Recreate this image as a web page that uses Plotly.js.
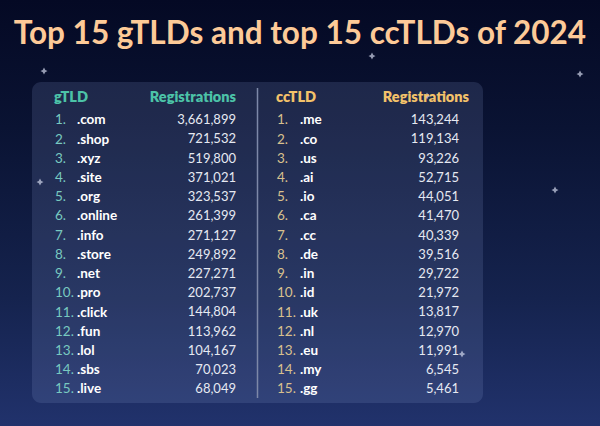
<!DOCTYPE html>
<html>
<head>
<meta charset="utf-8">
<script src="https://cdn.plot.ly/plotly-3.0.1.min.js"></script>
<style>
  html, body { margin: 0; padding: 0; }
  body {
    width: 600px; height: 426px; overflow: hidden;
    background: linear-gradient(180deg, #040924 0%, #0a1333 30%, #15234e 70%, #21326c 100%);
  }
  #chart { width: 600px; height: 426px; }
</style>
</head>
<body>
<div id="chart"></div>
<script>
// ---- data ----
const gRanks = ["1.","2.","3.","4.","5.","6.","7.","8.","9.","10.","11.","12.","13.","14.","15."];
const gTLDs = [".com",".shop",".xyz",".site",".org",".online",".info",".store",".net",".pro",".click",".fun",".lol",".sbs",".live"];
const gRegs = [3661899,721532,519800,371021,323537,261399,271127,249892,227271,202737,144804,113962,104167,70023,68049];
const ccRanks = ["1.","2.","3.","4.","5.","6.","7.","8.","9.","10.","11.","12.","13.","14.","15."];
const ccTLDs = [".me",".co",".us",".ai",".io",".ca",".cc",".de",".in",".id",".uk",".nl",".eu",".my",".gg"];
const ccRegs = [143244,119134,93226,52715,44051,41470,40339,39516,29722,21972,13817,12970,11991,6545,5461];
const headers = {g: ["gTLD", "Registrations"], cc: ["ccTLD", "Registrations"]};
const titleText = "Top 15 gTLDs and top 15 ccTLDs of 2024";
// decorative sparkles (pixel positions)
const starX = [44, 580, 372, 427, 462, 40, 555];
const starY = [71, 74, 56, 96, 354, 182, 190];

// ---- layout helpers ----
const W = 600, H = 426;
const row1 = 121, rowStep = 19.22;   // pixel y of rank 1 and row spacing
const yTop = 1 - row1 / rowStep;      // rank at pixel 0
const yBot = 1 + (H - row1) / rowStep;
const rowsY = gTLDs.map((_, i) => i + 1);
const headerY = 1 - (row1 - 98) / rowStep;
const fmt = v => v.toLocaleString("en-US");
const FONT = "Lato, 'Open Sans', sans-serif";

function col(xpos, texts, ys, pos, color, size, weight) {
  return {
    type: "scatter", mode: "text",
    x: ys.map(() => xpos), y: ys, text: texts,
    textposition: pos, hoverinfo: "skip", showlegend: false,
    textfont: {family: FONT, size: size, color: color, weight: weight}
  };
}

const traces = [
  {type: "scatter", mode: "markers", x: starX, y: starY.map(p => 1 + (p - row1) / rowStep),
   marker: {symbol: "star-diamond", size: 5, color: "rgba(210,215,235,0.7)"},
   hoverinfo: "skip", showlegend: false},
  col(55, gRanks, rowsY, "middle right", "#78c9c0", 13.5, 400),
  col(77, gTLDs, rowsY, "middle right", "#ffffff", 13.5, 700),
  col(236, gRegs.map(fmt), rowsY, "middle left", "#e6e9f2", 13, 400),
  col(277, ccRanks, rowsY, "middle right", "#d9c08e", 13.5, 400),
  col(300, ccTLDs, rowsY, "middle right", "#ffffff", 13.5, 700),
  col(459, ccRegs.map(fmt), rowsY, "middle left", "#e6e9f2", 13, 400),
  col(54, [headers.g[0]], [headerY], "middle right", "#4cc3a8", 14.5, 800),
  col(236, [headers.g[1]], [headerY], "middle left", "#4cc3a8", 14.5, 800),
  col(276, [headers.cc[0]], [headerY], "middle right", "#f3c26a", 14.5, 800),
  col(469, [headers.cc[1]], [headerY], "middle left", "#f3c26a", 14.5, 800)
];

// rounded panel path in paper coords
function roundRect(x0, y0, x1, y1, r) {
  const px = x => (x / W).toFixed(5);
  const py = y => (1 - y / H).toFixed(5);
  const k = 0.45;
  return `M ${px(x0 + r)} ${py(y0)} L ${px(x1 - r)} ${py(y0)} ` +
    `C ${px(x1 - r * k)} ${py(y0)} ${px(x1)} ${py(y0 + r * k)} ${px(x1)} ${py(y0 + r)} ` +
    `L ${px(x1)} ${py(y1 - r)} ` +
    `C ${px(x1)} ${py(y1 - r * k)} ${px(x1 - r * k)} ${py(y1)} ${px(x1 - r)} ${py(y1)} ` +
    `L ${px(x0 + r)} ${py(y1)} ` +
    `C ${px(x0 + r * k)} ${py(y1)} ${px(x0)} ${py(y1 - r * k)} ${px(x0)} ${py(y1 - r)} ` +
    `L ${px(x0)} ${py(y0 + r)} ` +
    `C ${px(x0)} ${py(y0 + r * k)} ${px(x0 + r * k)} ${py(y0)} ${px(x0 + r)} ${py(y0)} Z`;
}

const layout = {
  width: W, height: H,
  margin: {l: 0, r: 0, t: 0, b: 0},
  paper_bgcolor: "rgba(0,0,0,0)",
  plot_bgcolor: "rgba(0,0,0,0)",
  showlegend: false,
  title: {
    text: "<b>" + titleText + "</b>",
    x: 0.5, xanchor: "center", y: 1 - 33 / H, yanchor: "middle",
    font: {family: FONT, size: 31.5, color: "#fdca98"}
  },
  xaxis: {range: [0, W], visible: false, fixedrange: true},
  yaxis: {range: [yBot, yTop], visible: false, fixedrange: true},
  shapes: [
    {type: "path", xref: "paper", yref: "paper", path: roundRect(32, 82, 483, 403, 9),
     fillcolor: "rgba(140,160,215,0.17)", line: {width: 0}, layer: "below"},
    {type: "line", xref: "paper", yref: "paper", x0: 257.5 / W, x1: 257.5 / W,
     y0: 1 - 88 / H, y1: 1 - 398 / H, line: {color: "#7d88a8", width: 1.5}}
  ]
};

Plotly.newPlot("chart", traces, layout, {staticPlot: true, displayModeBar: false});
</script>
</body>
</html>
